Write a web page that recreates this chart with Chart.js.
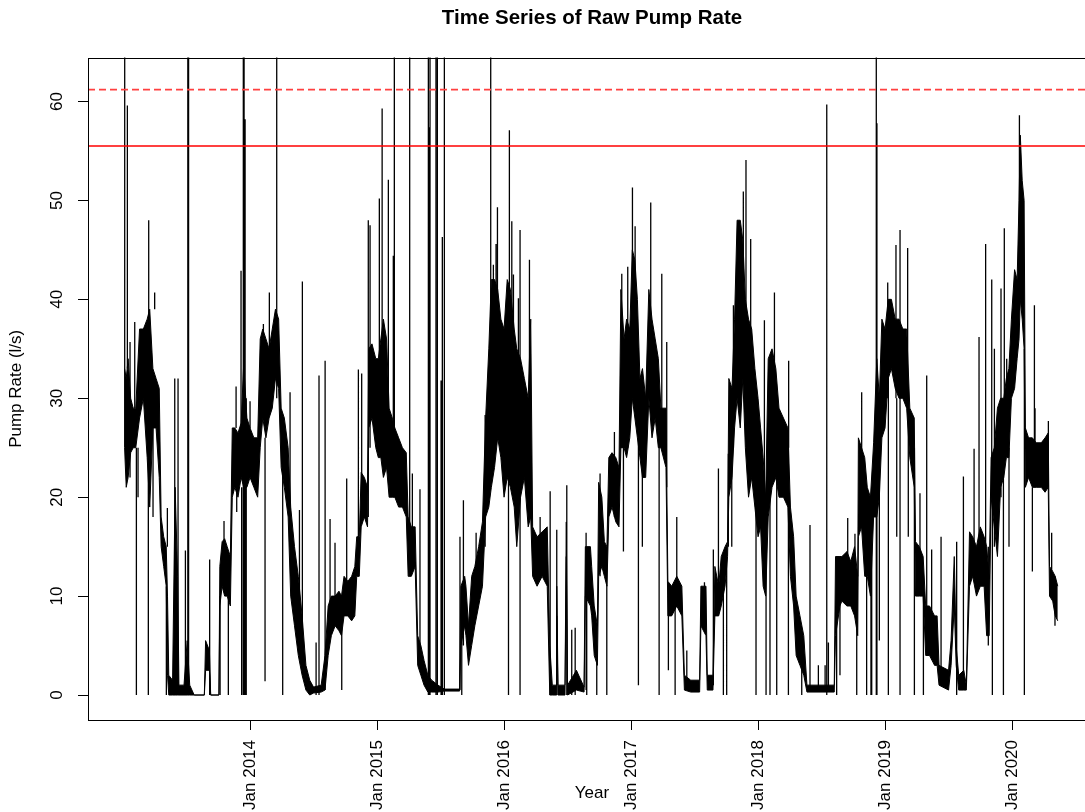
<!DOCTYPE html>
<html>
<head>
<meta charset="utf-8">
<title>Time Series of Raw Pump Rate</title>
<script src="https://cdn.jsdelivr.net/npm/chart.js@4.4.1/dist/chart.umd.min.js"></script>
<style>
  html, body { margin: 0; padding: 0; background: #fff; overflow: hidden; }
  #wrap { width: 1100px; height: 812px; }
</style>
</head>
<body>
<div id="wrap"><canvas id="pumpChart" width="1100" height="812"></canvas></div>
<script>
const CHART_TITLE = "Time Series of Raw Pump Rate";
const X_LABEL = "Year";
const Y_LABEL = "Pump Rate (l/s)";

const xTickYears = [2014, 2015, 2016, 2017, 2018, 2019, 2020];
const yTickValues = [0, 10, 20, 30, 40, 50, 60];
const xRange = [2012.724, 2020.661];
const yRange = [-2.525, 64.44];

// red reference levels: solid, dashed
const limitLevels = [55.5, 61.2];

// dense part of the series: lower / upper edge of the black band
const bandYears = [
  2013.012, 2013.025, 2013.040, 2013.060, 2013.080, 2013.100, 2013.130, 2013.160, 2013.190, 2013.210,
  2013.235, 2013.260, 2013.285, 2013.300, 2013.320, 2013.340, 2013.350, 2013.360, 2013.390, 2013.410,
  2013.430, 2013.440, 2013.480, 2013.505, 2013.525, 2013.560, 2013.640, 2013.650, 2013.680, 2013.690,
  2013.755, 2013.762, 2013.780, 2013.800, 2013.820, 2013.845, 2013.860, 2013.880, 2013.905, 2013.930,
  2013.950, 2013.975, 2014.000, 2014.030, 2014.060, 2014.080, 2014.100, 2014.125, 2014.150, 2014.175,
  2014.200, 2014.225, 2014.245, 2014.270, 2014.300, 2014.320, 2014.350, 2014.380, 2014.410, 2014.440,
  2014.470, 2014.500, 2014.560, 2014.590, 2014.615, 2014.640, 2014.670, 2014.700,
  2014.720, 2014.740, 2014.770, 2014.800, 2014.825, 2014.840, 2014.860, 2014.875, 2014.900, 2014.925,
  2014.935, 2014.960, 2014.990, 2015.010, 2015.030, 2015.050, 2015.075, 2015.095, 2015.120, 2015.140,
  2015.170, 2015.200, 2015.230, 2015.245, 2015.270, 2015.300, 2015.320, 2015.345, 2015.370, 2015.400,
  2015.430, 2015.480, 2015.530, 2015.650, 2015.660, 2015.690,
  2015.700, 2015.720, 2015.745, 2015.770, 2015.800, 2015.830, 2015.855, 2015.880, 2015.900, 2015.925,
  2015.950, 2015.975, 2016.000, 2016.025, 2016.050, 2016.080, 2016.100, 2016.130, 2016.160, 2016.190,
  2016.210, 2016.225, 2016.260, 2016.300, 2016.340, 2016.360, 2016.380, 2016.410, 2016.415, 2016.425,
  2016.480, 2016.490, 2016.500, 2016.570, 2016.630, 2016.640, 2016.680,
  2016.690, 2016.710, 2016.735, 2016.745, 2016.770, 2016.790, 2016.810, 2016.825, 2016.850, 2016.880,
  2016.905, 2016.920, 2016.945, 2016.965, 2016.990, 2017.010, 2017.030, 2017.050, 2017.070, 2017.090,
  2017.115, 2017.140, 2017.165, 2017.190, 2017.215, 2017.235, 2017.275, 2017.290, 2017.320, 2017.360,
  2017.400, 2017.420, 2017.470, 2017.540, 2017.550, 2017.590, 2017.600, 2017.645,
  2017.660, 2017.690, 2017.710, 2017.740, 2017.760, 2017.770, 2017.795, 2017.815, 2017.835, 2017.860,
  2017.880, 2017.900, 2017.925, 2017.950, 2017.975, 2018.000, 2018.020, 2018.040, 2018.060, 2018.080,
  2018.110, 2018.140, 2018.165, 2018.200, 2018.235, 2018.255, 2018.280, 2018.300, 2018.330, 2018.360,
  2018.385, 2018.600, 2018.610, 2018.645,
  2018.660, 2018.700, 2018.730, 2018.760, 2018.785, 2018.790, 2018.815, 2018.840, 2018.860, 2018.885,
  2018.910, 2018.935, 2018.955, 2018.975, 2019.000, 2019.025, 2019.050, 2019.080, 2019.110, 2019.140,
  2019.170, 2019.195, 2019.230, 2019.240, 2019.270, 2019.300, 2019.320, 2019.350, 2019.390, 2019.410,
  2019.425, 2019.500, 2019.520, 2019.545, 2019.560, 2019.580, 2019.620,
  2019.640, 2019.665, 2019.690, 2019.720, 2019.750, 2019.780, 2019.800, 2019.820, 2019.835, 2019.860,
  2019.885, 2019.910, 2019.935, 2019.955, 2019.975, 2019.995, 2020.020, 2020.040, 2020.055, 2020.065,
  2020.080, 2020.095, 2020.105, 2020.130, 2020.160, 2020.190, 2020.230, 2020.260, 2020.285, 2020.295,
  2020.320, 2020.340, 2020.360,
];
const bandLow = [
  25, 21, 22, 24.5, 25, 25, 28, 30, 24, 19,
  27, 27, 22, 15, 13, 11, 2, 0, 0, 0,
  0, 0, 0, 0, 0, 0, 0, 2.5, 2.5, 0,
  0, 9, 11, 10, 10, 9, 20, 21, 20, 22,
  21, 21, 22, 21, 20, 25, 28, 26, 28, 29,
  32, 31, 23, 21, 18, 10, 7, 4, 2, 0.5,
  0, 0.2, 0.3, 0.5, 4, 6, 7, 6.5,
  6, 8, 8, 7.5, 8, 12, 12, 17, 18, 17,
  27, 28, 25, 24, 24, 22, 23, 20, 20, 20,
  19, 19, 18, 12, 12, 13, 3, 2, 1, 0.3,
  0.3, 0.3, 0.4, 0.4, 5, 7,
  6, 3, 5, 7, 9, 11, 18, 19, 21, 23,
  26, 24, 20, 22, 21, 19, 15, 20, 22, 17,
  18, 12, 11, 12, 11, 0, 0, 0, 8, 0,
  0, 14, 0, 0.5, 0.3, 10, 9,
  8, 4, 3, 12, 13, 12, 11, 18, 19, 17.5,
  17, 25, 25, 24, 26, 30, 28, 26, 24, 22,
  22, 30, 26, 28, 25, 25, 23, 8, 8, 9,
  8, 0.5, 0.3, 0.3, 7, 6, 0.5, 0.5,
  8, 8, 9, 11, 14, 20, 22, 27, 30, 27,
  32, 25, 20, 22, 19, 16, 17, 11, 10, 18,
  21, 22, 20, 20, 19, 12, 9, 4, 3, 2,
  0.3, 0.3, 6, 9,
  9.5, 9, 9, 8, 6, 16, 17, 12, 12, 10,
  18, 18, 20, 26, 27, 32, 33, 31, 30, 30,
  29, 24, 21, 10, 10, 10, 4, 4, 3, 3,
  1, 0.5, 3, 9, 3, 0.5, 0.5,
  0.5, 11, 12, 10, 11, 11, 6, 6, 20, 17,
  14, 21, 22, 24, 24, 30, 31, 34, 36, 40,
  38, 35, 21, 22, 21, 21, 21, 20.5, 21, 10,
  9.5, 8, 7.5,
];
const bandHigh = [
  33, 32, 34, 30, 29, 29, 37, 37, 38, 39,
  33, 32, 31, 18, 16, 15, 10, 2, 1.5, 21,
  12, 1, 1, 5.5, 1, 0, 0, 5.5, 4.5, 0,
  0, 13, 15.5, 15.8, 15, 14, 27, 27, 26.5, 27.5,
  33.5, 28, 27, 26, 26, 36, 37, 36, 35, 37,
  39, 38, 29, 28, 25, 19, 15, 12, 8, 3,
  1.5, 0.8, 1, 4, 9, 10, 10, 10.5,
  10, 12, 11.5, 12, 13, 16, 16, 22.5, 22, 21,
  35, 35.5, 34, 34, 36, 38, 36, 29, 28, 27,
  26, 25, 24.5, 18, 17, 17, 6, 5, 3.5, 2,
  1.5, 1, 0.6, 0.6, 11, 12,
  11, 7, 12, 13, 15, 17.5, 28, 35, 42, 42,
  41, 38, 37, 42, 41, 37, 35, 34, 32, 30,
  38, 17, 16, 16.5, 17, 5, 1, 1, 11, 1,
  1, 17.5, 1, 2.5, 0.8, 15, 15,
  13, 9, 7, 21.5, 20, 15.5, 15, 24, 24.5, 24,
  23, 41, 36, 38, 37, 45, 44, 40, 32, 33,
  30, 41, 38, 36, 34, 29, 29, 11.5, 11, 12,
  11, 2, 1.5, 1.5, 11, 11, 2, 2,
  13, 11, 14, 15, 15.5, 32, 31, 38, 48, 48,
  46, 40, 38, 37, 33, 30, 27, 24, 20, 34,
  35, 33, 29, 28, 27, 19, 16, 10, 8, 6,
  1, 1, 14, 14,
  14, 14.5, 13.5, 15, 12, 26, 25, 24, 21, 20,
  25.5, 34, 30, 38, 37, 40, 40, 38, 38, 37,
  37, 29, 28, 15.5, 15, 14, 9, 9, 8, 8,
  3, 2.5, 5.5, 14, 5, 2, 2.5,
  1, 16.5, 16, 15, 17, 16, 15, 12, 24, 25,
  29, 30, 30, 32, 33, 38, 43, 42, 50, 56.6,
  52, 50, 27, 26, 26, 25.5, 25.5, 26, 26.5, 13,
  12.5, 12, 11,
];

// isolated readings that shoot out of the band (from / to)
const spikeYears = [
  2013.013, 2013.034, 2013.055, 2013.092, 2013.105, 2013.118, 2013.199, 2013.202, 2013.236, 2013.249,
  2013.341, 2013.349, 2013.407, 2013.433, 2013.491, 2013.510, 2013.516, 2013.682, 2013.764, 2013.795,
  2013.829, 2013.890, 2013.895, 2013.929, 2013.934, 2013.947, 2013.953, 2013.961, 2013.970, 2014.000,
  2014.105, 2014.118, 2014.152, 2014.210, 2014.257, 2014.315, 2014.389, 2014.412, 2014.520, 2014.543,
  2014.591, 2014.630, 2014.669, 2014.722, 2014.761, 2014.853, 2014.879, 2014.931, 2014.945, 2015.018,
  2015.040, 2015.089, 2015.128, 2015.136, 2015.257, 2015.278, 2015.338, 2015.404, 2015.408, 2015.413,
  2015.417, 2015.464, 2015.475, 2015.504, 2015.514, 2015.530, 2015.653, 2015.667, 2015.680, 2015.780,
  2015.851, 2015.895, 2015.916, 2015.937, 2015.948, 2016.035, 2016.042, 2016.061, 2016.074, 2016.113,
  2016.126, 2016.200, 2016.284, 2016.363, 2016.415, 2016.494, 2016.533, 2016.560, 2016.646, 2016.651,
  2016.730, 2016.756, 2016.809, 2016.869, 2016.927, 2016.940, 2016.974, 2017.011, 2017.032, 2017.058,
  2017.089, 2017.155, 2017.221, 2017.242, 2017.281, 2017.294, 2017.347, 2017.360, 2017.439, 2017.578,
  2017.648, 2017.688, 2017.727, 2017.753, 2017.766, 2017.793, 2017.806, 2017.884, 2017.905, 2017.942,
  2017.984, 2018.050, 2018.063, 2018.094, 2018.129, 2018.147, 2018.239, 2018.241, 2018.344, 2018.409,
  2018.475, 2018.528, 2018.541, 2018.554, 2018.619, 2018.645, 2018.706, 2018.763, 2018.777, 2018.816,
  2018.855, 2018.889, 2018.895, 2018.931, 2018.936, 2018.955, 2019.021, 2019.026, 2019.086, 2019.092,
  2019.118, 2019.178, 2019.183, 2019.231, 2019.275, 2019.302, 2019.328, 2019.367, 2019.393, 2019.441,
  2019.564, 2019.617, 2019.701, 2019.740, 2019.792, 2019.813, 2019.840, 2019.845, 2019.861, 2019.913,
  2019.932, 2019.939, 2019.958, 2019.976, 2020.058, 2020.097, 2020.160, 2020.176, 2020.181, 2020.286,
  2020.312, 2020.338,
];
const spikeLow = [
  25, 33, 22, 29, 0, 20, 0, 38, 18, 39,
  0, 15, 0, 0, 0, 0, 0, 0, 0, 15,
  0, 27, 18.5, 27, 0, 0, 0, 0, 0, 27,
  30, 1.4, 35, 30, 0, 15, 5, 3, 0, 0,
  0.5, 7, 7, 0.5, 10, 12, 18, 18, 25, 25,
  25, 25, 20, 20, 13, 13, 3, 0, 0, 0,
  0, 0, 0, 0, 0, 0, 0.5, 0, 5, 10,
  15, 25, 30, 30, 30, 0, 25, 25, 25, 25,
  0, 20, 12, 0, 0, 0, 0, 0, 0.5, 0,
  0, 12, 0, 18, 25, 14.5, 25, 30, 30, 1,
  15, 30, 0, 28, 21, 2.5, 0, 10, 0.5, 8,
  1, 9, 0, 0, 15, 15, 25, 35, 35, 25,
  0, 15, 0, 0, 25, 0, 0, 25, 0, 0.5,
  0.5, 0.5, 0, 0.5, 0, 2, 12, 12, 0, 24,
  0, 0, 0, 0, 0, 5.5, 30, 0, 30, 16,
  0, 30, 16, 0, 12, 0, 5, 5, 3, 2,
  0, 1, 12, 12, 11, 5, 20, 0, 15, 20,
  0, 25, 25, 15, 40, 0, 12.5, 21, 21, 21,
  10, 7,
];
const spikeHigh = [
  70, 59.6, 35.7, 37.7, 25, 25, 30, 48, 27, 40.7,
  11, 18.9, 32, 32, 14.6, 70, 70, 13.7, 10, 17.6,
  12, 31.2, 21, 42.9, 21, 70, 70, 58.2, 30, 29.7,
  37.5, 26, 40.7, 70, 25, 30.6, 18.7, 41.8, 5.3, 32.3,
  33.8, 17.8, 15.4, 8, 21.9, 32.9, 32.5, 48, 47.5, 50.2,
  59.3, 52.1, 44.4, 70, 70, 22.4, 20.8, 70, 57.4, 57.4,
  70, 70, 70, 31.8, 46.3, 70, 16, 8, 19.7, 16.4,
  28.3, 70, 43.5, 45.6, 49.3, 25, 57.1, 47.9, 42.5, 40.1,
  47, 44, 18, 20.6, 16.7, 21.2, 6.6, 6.8, 16.4, 13,
  5, 22.4, 15, 26.6, 42.6, 30, 43.3, 51.3, 47.4, 30,
  30, 49.8, 30, 42.6, 35.7, 10, 10, 18, 4.5, 11.4,
  14.7, 22.9, 12, 14, 24.4, 30, 39.4, 50.9, 54.1, 46.1,
  25, 37.9, 20, 30, 40.7, 30, 25, 33.8, 6, 17.2,
  3, 3, 59.7, 5.3, 12, 12, 17.9, 16.3, 10, 30.6,
  20, 15, 15, 70, 57.8, 30, 41.7, 35, 45.5, 30,
  47, 45.2, 30, 25, 20.4, 12, 32.3, 14.7, 8, 16,
  15.5, 22.1, 24.9, 36.2, 45.6, 15, 42, 20, 35, 41.1,
  25, 47.2, 34, 25, 58.6, 35, 21, 39.4, 29, 27.7,
  16.4, 12,
];

const FONT_FAMILY = '"Liberation Sans", Arial, Helvetica, sans-serif';

function buildBand(values) {
  return bandYears.map((year, i) => ({ x: year, y: values[i] }));
}

function buildSpikes() {
  const points = [];
  spikeYears.forEach((year, i) => {
    points.push({ x: year, y: spikeLow[i] });
    points.push({ x: year, y: spikeHigh[i] });
    points.push({ x: year, y: null });
  });
  return points;
}

function buildLevel(level) {
  return [
    { x: xRange[0], y: level },
    { x: xRange[1], y: level },
  ];
}

// R-style box round the plot region and vertical y tick labels
const rFrame = {
  id: "rFrame",
  afterDraw(chart) {
    const { ctx, chartArea, scales } = chart;
    ctx.save();
    ctx.strokeStyle = "#000";
    ctx.lineWidth = 1;
    ctx.strokeRect(
      Math.round(chartArea.left) + 0.5,
      Math.round(chartArea.top) + 0.5,
      Math.round(chartArea.right - chartArea.left),
      Math.round(chartArea.bottom - chartArea.top),
    );
    ctx.fillStyle = "#000";
    ctx.font = `17px ${FONT_FAMILY}`;
    ctx.textAlign = "center";
    ctx.textBaseline = "middle";
    const labelX = scales.y.right - 31;
    yTickValues.forEach((value) => {
      const y = scales.y.getPixelForValue(value);
      ctx.save();
      ctx.translate(labelX, y);
      ctx.rotate(-Math.PI / 2);
      ctx.fillText(String(value), 0, 0);
      ctx.restore();
    });
    ctx.restore();
  },
};

const lineDefaults = {
  pointRadius: 0,
  pointHoverRadius: 0,
  tension: 0,
  borderWidth: 1,
};

new Chart(document.getElementById("pumpChart"), {
  type: "line",
  data: {
    datasets: [
      {
        ...lineDefaults,
        label: "band high",
        data: buildBand(bandHigh),
        borderColor: "#000",
        backgroundColor: "#000",
        fill: "+1",
        order: 2,
      },
      {
        ...lineDefaults,
        label: "band low",
        data: buildBand(bandLow),
        borderColor: "#000",
        fill: false,
        order: 2,
      },
      {
        ...lineDefaults,
        label: "spikes",
        data: buildSpikes(),
        borderColor: "#000",
        borderWidth: 1.3,
        spanGaps: false,
        fill: false,
        order: 1,
      },
      {
        ...lineDefaults,
        label: "limit",
        data: buildLevel(limitLevels[0]),
        borderColor: "#ff0000",
        borderWidth: 1.6,
        fill: false,
        order: 0,
      },
      {
        ...lineDefaults,
        label: "upper limit",
        data: buildLevel(limitLevels[1]),
        borderColor: "#ff4040",
        borderWidth: 1.8,
        borderDash: [7, 4],
        fill: false,
        order: 0,
      },
    ],
  },
  options: {
    responsive: false,
    animation: false,
    events: [],
    layout: { padding: { left: 0, right: 4, top: 0, bottom: 0 } },
    scales: {
      x: {
        type: "linear",
        min: xRange[0],
        max: xRange[1],
        afterBuildTicks: (scale) => {
          scale.ticks = xTickYears.map((value) => ({ value }));
        },
        afterFit: (scale) => {
          scale.height = 92;
        },
        border: { display: false },
        grid: {
          drawOnChartArea: false,
          drawTicks: true,
          tickLength: 10,
          color: "#000",
        },
        ticks: {
          autoSkip: false,
          minRotation: 90,
          maxRotation: 90,
          padding: 10,
          color: "#000",
          font: { family: FONT_FAMILY, size: 17 },
          callback: (value) => `Jan ${value}`,
        },
        title: {
          display: true,
          text: X_LABEL,
          color: "#000",
          font: { family: FONT_FAMILY, size: 17 },
          padding: { top: 0, bottom: 8 },
        },
      },
      y: {
        type: "linear",
        min: yRange[0],
        max: yRange[1],
        afterBuildTicks: (scale) => {
          scale.ticks = yTickValues.map((value) => ({ value }));
        },
        afterFit: (scale) => {
          scale.width = 88;
        },
        border: { display: false },
        grid: {
          drawOnChartArea: false,
          drawTicks: true,
          tickLength: 10,
          color: "#000",
        },
        ticks: { display: false },
        title: {
          display: true,
          text: Y_LABEL,
          color: "#000",
          font: { family: FONT_FAMILY, size: 17 },
          padding: { top: 6, bottom: 0 },
        },
      },
    },
    plugins: {
      legend: { display: false },
      tooltip: { enabled: false },
      title: {
        display: true,
        fullSize: false,
        text: CHART_TITLE,
        color: "#000",
        font: { family: FONT_FAMILY, size: 20.5, weight: "bold" },
        padding: { top: 6, bottom: 27 },
      },
    },
  },
  plugins: [rFrame],
});
</script>
</body>
</html>
